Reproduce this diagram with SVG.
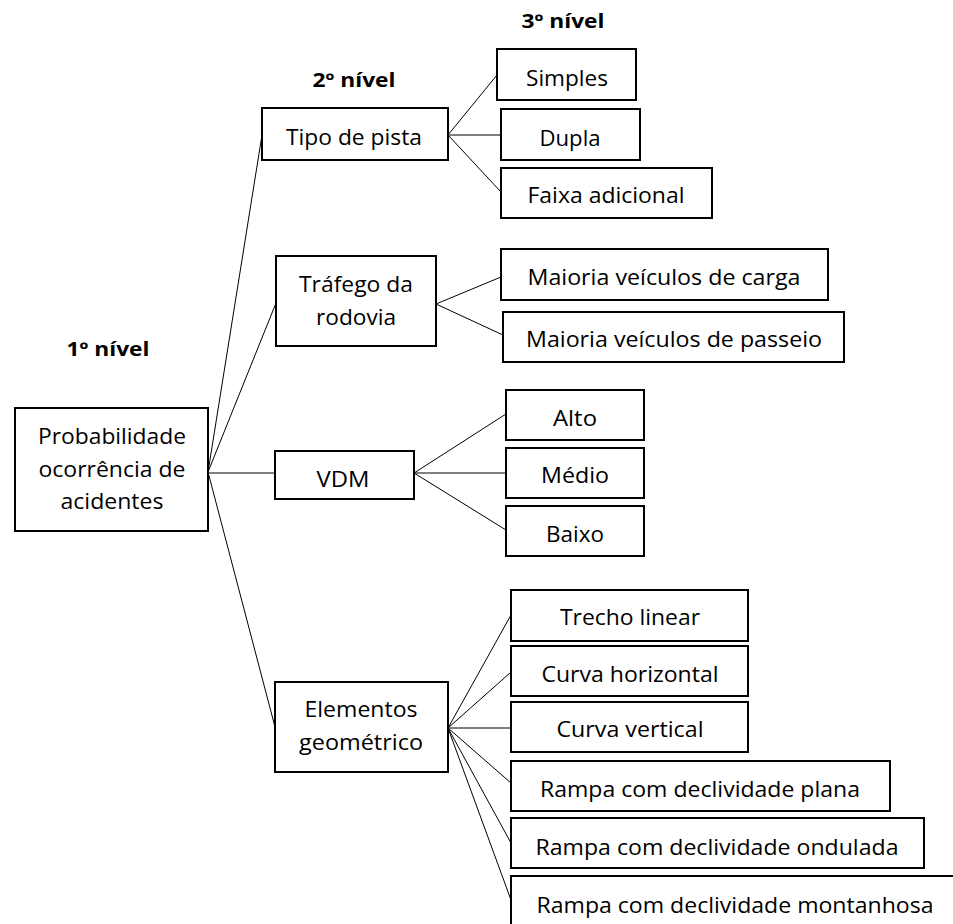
<svg xmlns="http://www.w3.org/2000/svg" width="953" height="924" viewBox="0 0 953 924">
<style>
rect{fill:#fff;stroke:#000;stroke-width:2}
text{font-family:"Open Sans","Noto Sans","Liberation Sans",sans-serif;font-size:21px;fill:#000;text-anchor:middle}
.lvl{font-weight:bold;font-size:19px}
#connectors line{stroke:#000;stroke-width:1}
</style>
<rect x="0" y="0" width="953" height="924" style="stroke:none"/>
<g id="connectors">
<line x1="208" y1="472" x2="262" y2="135"/>
<line x1="208" y1="472" x2="276" y2="303"/>
<line x1="208" y1="473" x2="275" y2="473"/>
<line x1="208" y1="472" x2="275" y2="727"/>
<line x1="448" y1="135" x2="497" y2="75"/>
<line x1="448" y1="135" x2="501" y2="135"/>
<line x1="448" y1="135" x2="501" y2="192"/>
<line x1="436" y1="304" x2="501" y2="277"/>
<line x1="436" y1="304" x2="503" y2="335"/>
<line x1="414" y1="473" x2="506" y2="414"/>
<line x1="414" y1="473" x2="506" y2="473"/>
<line x1="414" y1="473" x2="506" y2="530"/>
<line x1="448" y1="728" x2="511" y2="615"/>
<line x1="448" y1="728" x2="511" y2="672"/>
<line x1="448" y1="728" x2="511" y2="728"/>
<line x1="448" y1="728" x2="511" y2="783"/>
<line x1="448" y1="728" x2="511" y2="843"/>
<line x1="448" y1="728" x2="511" y2="900"/>
</g>
<g id="labels">
<text class="lvl" x="108" y="356" textLength="83" lengthAdjust="spacingAndGlyphs">1º nível</text>
<text class="lvl" x="354" y="87" textLength="83" lengthAdjust="spacingAndGlyphs">2º nível</text>
<text class="lvl" x="563" y="28" textLength="83" lengthAdjust="spacingAndGlyphs">3º nível</text>
</g>
<g id="root">
<rect x="15" y="408" width="193" height="123"/>
<text x="112" y="444" textLength="148" lengthAdjust="spacingAndGlyphs">Probabilidade</text>
<text x="112" y="477" textLength="147" lengthAdjust="spacingAndGlyphs">ocorrência de</text>
<text x="112" y="509" textLength="103" lengthAdjust="spacingAndGlyphs">acidentes</text>
</g>
<g id="tipo">
<rect x="262" y="108" width="186" height="52"/>
<text x="354" y="145" textLength="136" lengthAdjust="spacingAndGlyphs">Tipo de pista</text>
</g>
<g id="trafego">
<rect x="276" y="256" width="160" height="90"/>
<text x="356" y="292" textLength="114" lengthAdjust="spacingAndGlyphs">Tráfego da</text>
<text x="356" y="325" textLength="80" lengthAdjust="spacingAndGlyphs">rodovia</text>
</g>
<g id="vdm">
<rect x="275" y="451" width="139" height="48"/>
<text x="343" y="487" textLength="53" lengthAdjust="spacingAndGlyphs">VDM</text>
</g>
<g id="elementos">
<rect x="275" y="682" width="173" height="90"/>
<text x="361" y="717" textLength="113" lengthAdjust="spacingAndGlyphs">Elementos</text>
<text x="361" y="750" textLength="124" lengthAdjust="spacingAndGlyphs">geométrico</text>
</g>
<g id="simples">
<rect x="497" y="49" width="139" height="51"/>
<text x="567" y="86" textLength="82" lengthAdjust="spacingAndGlyphs">Simples</text>
</g>
<g id="dupla">
<rect x="501" y="109" width="139" height="51"/>
<text x="570" y="146" textLength="61" lengthAdjust="spacingAndGlyphs">Dupla</text>
</g>
<g id="faixa">
<rect x="501" y="168" width="211" height="50"/>
<text x="606" y="203" textLength="157" lengthAdjust="spacingAndGlyphs">Faixa adicional</text>
</g>
<g id="carga">
<rect x="501" y="249" width="327" height="51"/>
<text x="664" y="285" textLength="273" lengthAdjust="spacingAndGlyphs">Maioria veículos de carga</text>
</g>
<g id="passeio">
<rect x="503" y="312" width="341" height="50"/>
<text x="674" y="347" textLength="296" lengthAdjust="spacingAndGlyphs">Maioria veículos de passeio</text>
</g>
<g id="alto">
<rect x="506" y="390" width="138" height="50"/>
<text x="575" y="426" textLength="44" lengthAdjust="spacingAndGlyphs">Alto</text>
</g>
<g id="medio">
<rect x="506" y="448" width="138" height="50"/>
<text x="575" y="483" textLength="68" lengthAdjust="spacingAndGlyphs">Médio</text>
</g>
<g id="baixo">
<rect x="506" y="506" width="138" height="50"/>
<text x="575" y="542" textLength="58" lengthAdjust="spacingAndGlyphs">Baixo</text>
</g>
<g id="trecho">
<rect x="511" y="590" width="237" height="51"/>
<text x="630" y="625" textLength="140" lengthAdjust="spacingAndGlyphs">Trecho linear</text>
</g>
<g id="curvah">
<rect x="511" y="646" width="237" height="50"/>
<text x="630" y="682" textLength="177" lengthAdjust="spacingAndGlyphs">Curva horizontal</text>
</g>
<g id="curvav">
<rect x="511" y="702" width="237" height="50"/>
<text x="630" y="737" textLength="147" lengthAdjust="spacingAndGlyphs">Curva vertical</text>
</g>
<g id="plana">
<rect x="511" y="761" width="379" height="50"/>
<text x="700" y="797" textLength="320" lengthAdjust="spacingAndGlyphs">Rampa com declividade plana</text>
</g>
<g id="ondulada">
<rect x="511" y="818" width="413" height="50"/>
<text x="717" y="855" textLength="363" lengthAdjust="spacingAndGlyphs">Rampa com declividade ondulada</text>
</g>
<g id="montanhosa">
<rect x="511" y="876" width="470" height="70"/>
<text x="735" y="913" textLength="397" lengthAdjust="spacingAndGlyphs">Rampa com declividade montanhosa</text>
</g>
</svg>
